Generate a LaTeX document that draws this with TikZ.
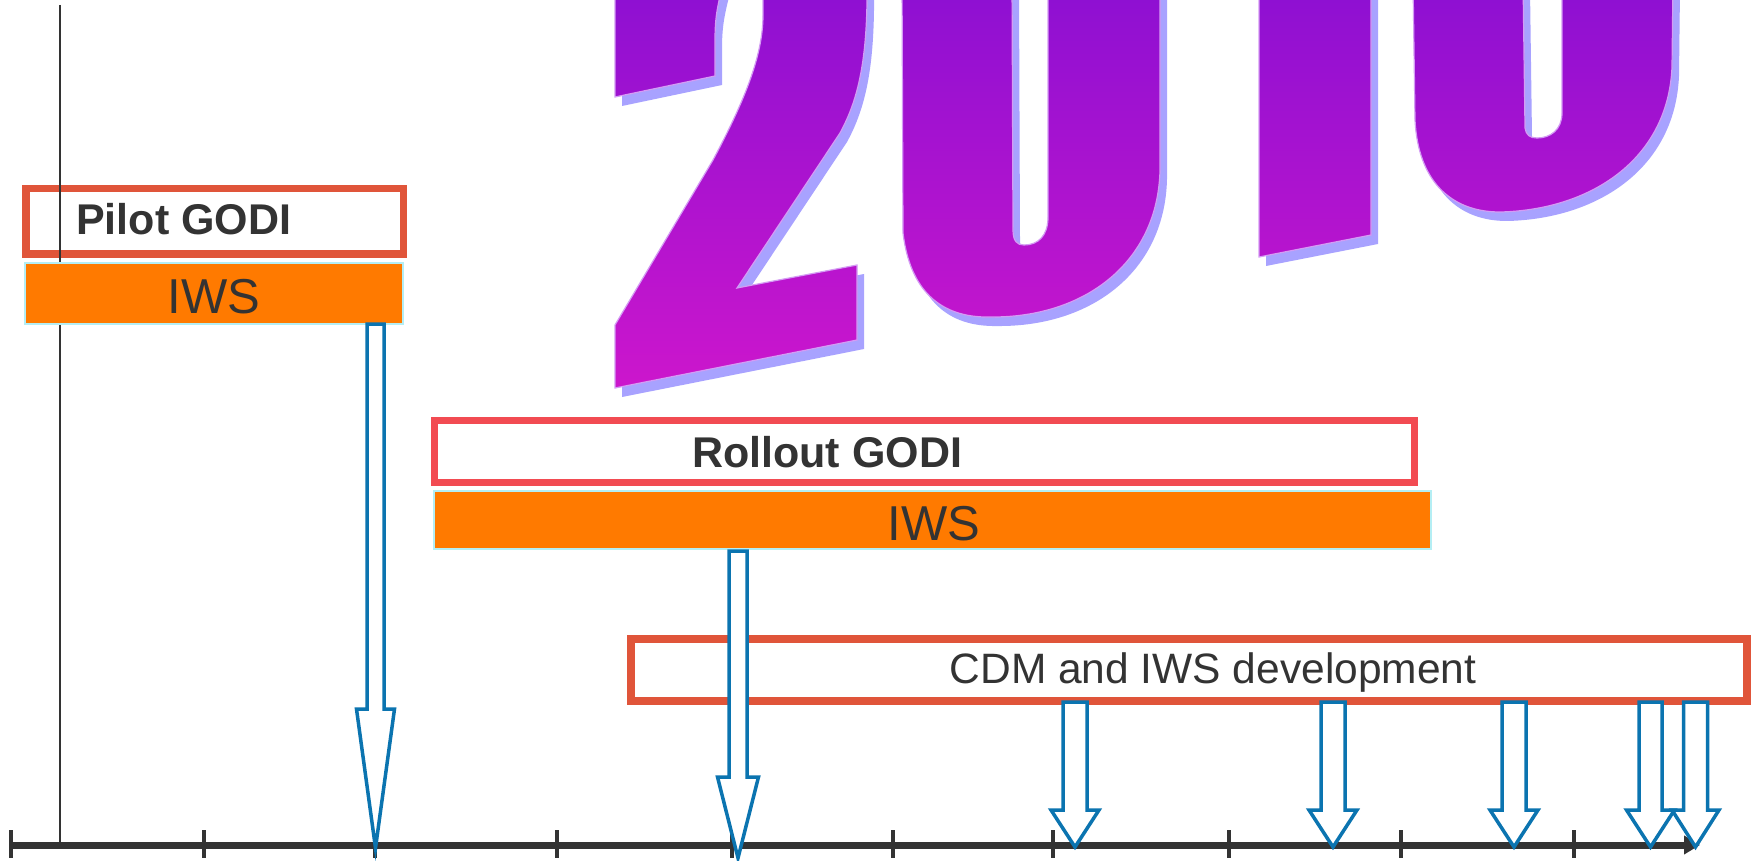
\documentclass[tikz,border=0pt]{standalone}
\usepackage{fontspec}
\setmainfont{Liberation Sans}
\usetikzlibrary{arrows.meta}
\definecolor{redA}{HTML}{E0553A}
\definecolor{redB}{HTML}{F24B52}
\definecolor{orangebar}{HTML}{FF7A00}
\definecolor{cyanedge}{HTML}{B4EEF4}
\definecolor{bluearr}{HTML}{0B74B0}
\definecolor{axisgray}{HTML}{333333}
\definecolor{txtgray}{HTML}{333333}
\definecolor{violetA}{HTML}{8C10D2}
\definecolor{magB}{HTML}{CC16CC}
\definecolor{lav}{HTML}{A8A2FF}
\definecolor{glyphedge}{HTML}{D49CF4}
\newcommand\blockarrow[6]{%
  \draw[blockarr] (#1-#5,#2) -- (#1+#5,#2) -- (#1+#5,#3) -- (#1+#6,#3) -- (#1,#4) -- (#1-#6,#3) -- (#1-#5,#3) -- cycle;}
\tikzset{
  phasebox/.style={draw=redA, line width=7.5pt, fill=white, inner sep=0pt},
  iwsbar/.style={draw=cyanedge, line width=1.5pt, fill=orangebar, inner sep=0pt},
  boldlbl/.style={text=txtgray, inner sep=0pt, font=\fontsize{43}{50}\selectfont\bfseries},
  iwslbl/.style={text=txtgray, inner sep=0pt, font=\fontsize{49}{56}\selectfont},
  cdmlbl/.style={text=txtgray, inner sep=0pt, font=\fontsize{42.5}{50}\selectfont},
  blockarr/.style={draw=bluearr, line width=3.5pt, fill=white, line join=miter},
  axisline/.style={draw=axisgray, line width=7pt, -{Triangle[length=16pt,width=18pt]}},
  ticker/.style={draw=axisgray, line width=4.5pt},
  vline/.style={draw=axisgray, line width=2pt},
  pics/twentysixteen/.style={code={
    \path[pic actions]
     % 2: upper arm
     (615,-20) -- (615,97) -- (715,76) -- (715,40) .. controls (715,15) and (718,4) .. (724,-20) -- cycle
     % 2: diagonal and base
     (763,-20) -- (763,15) .. controls (763,55) and (745,100) .. (713,160) -- (615,325) -- (615,388) -- (857,340) -- (857,265) -- (737,288) -- (840,133) .. controls (858,100) and (868,60) .. (867,-20) -- cycle
     % 0
     (902,-20) -- (903,233) .. controls (910,290) and (940,318) .. (990,317) .. controls (1085,318) and (1158,262) .. (1160,170) -- (1160,-20) -- cycle
     (1012,-20) -- (1013,230) .. controls (1013,241) and (1017,245) .. (1024,245) .. controls (1038,245) and (1048,236) .. (1048,217) -- (1048,-20) -- cycle
     % 1
     (1259,-20) -- (1259,257) -- (1371,235) -- (1371,-20) -- cycle
     % 6
     (1413,-20) -- (1415,120) .. controls (1418,180) and (1450,212) .. (1500,212) .. controls (1590,210) and (1668,160) .. (1672,67) -- (1673,-20) -- cycle
     (1523,-20) -- (1525,128) .. controls (1526,135) and (1530,138) .. (1537,138) .. controls (1550,138) and (1562,130) .. (1562,113) -- (1562,-20) -- cycle;
  }}
}
\begin{document}
\begin{tikzpicture}[x=1pt,y=-1pt]
\useasboundingbox[fill=white] (0,0) rectangle (1757,861);
% 2016 graphic
\begin{scope}
\clip (0,0) rectangle (1757,861);
\pic[fill=lav, even odd rule] at (7,9) {twentysixteen};
\pic[top color=violetA, bottom color=magB, even odd rule] at (0,0) {twentysixteen};
\pic[draw=glyphedge, line width=1.2pt] at (0,0) {twentysixteen};
\end{scope}
% axis
\coordinate (axstart) at (9,845);
\coordinate (axend) at (1700,845);
\draw[axisline] (axstart) -- (axend);
\foreach \x in {11,204,375,557,732,893,1053,1229,1401,1574}
  \draw[ticker] (\x,830) -- (\x,858);
% pilot
\node[phasebox, minimum width=377.5pt, minimum height=65.5pt] (pilot) at (214.5,221.5) {};
\node[boldlbl, anchor=base west] (pilottext) at (76,235) {Pilot GODI};
\coordinate (vtop) at (60,5);
\coordinate (vbot) at (60,845);
\draw[vline] (vtop) -- (vbot);
\node[iwsbar, minimum width=378pt, minimum height=61pt] (iws1) at (214,293.5) {};
\node[iwslbl, anchor=base] (iws1text) at (214,313) {IWS};
% rollout
\node[phasebox, draw=redB, line width=7pt, minimum width=980pt, minimum height=62pt] (rollout) at (924.5,451.5) {};
\node[boldlbl, anchor=base west] (rollouttext) at (692,467) {Rollout GODI};
\node[iwsbar, minimum width=997pt, minimum height=58pt] (iws2) at (932.5,520) {};
\node[iwslbl, anchor=base] (iws2text) at (934,540) {IWS};
% CDM
\node[phasebox, line width=8pt, minimum width=1116pt, minimum height=62pt] (cdm) at (1189,670) {};
\node[cdmlbl, anchor=base] (cdmtext) at (1213,683) {CDM and IWS development};
% block arrows
\blockarrow{375.5}{324}{709}{848}{8.5}{19}
\blockarrow{738}{551}{777}{858}{9}{20.5}
\blockarrow{1075}{702}{810}{847}{12}{24}
\blockarrow{1333}{702}{810}{847}{12}{24}
\blockarrow{1514}{702}{810}{847}{12}{24}
\blockarrow{1650.5}{702}{810}{847}{11.5}{24}
\blockarrow{1695.5}{702}{810}{847}{12}{23.5}
\end{tikzpicture}
\end{document}
